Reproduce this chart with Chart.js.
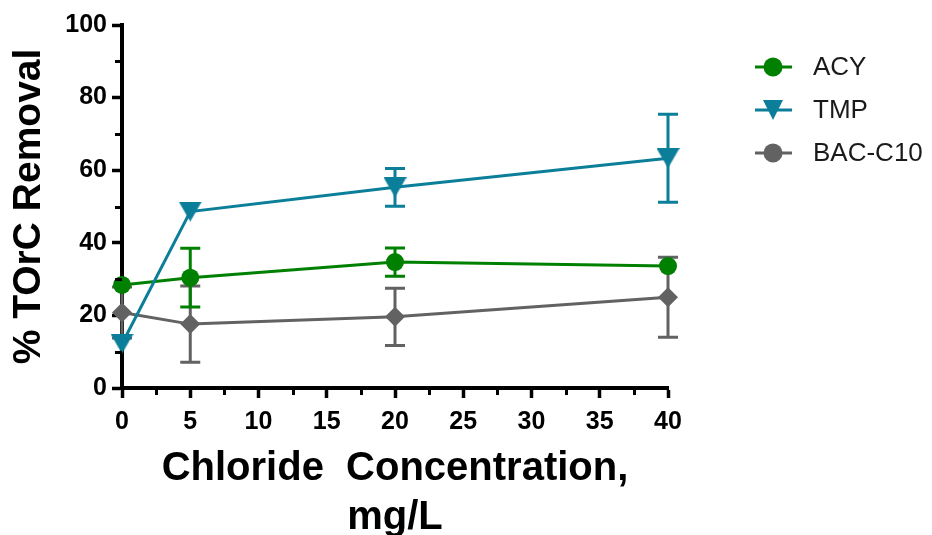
<!DOCTYPE html>
<html>
<head>
<meta charset="utf-8">
<script src="https://cdn.jsdelivr.net/npm/chart.js@4/dist/chart.umd.min.js"></script>
<style>
  html, body { margin: 0; padding: 0; background: #ffffff; }
  #wrap { width: 932px; height: 535px; }
</style>
</head>
<body>
<div id="wrap"><canvas id="c" width="932" height="535"></canvas></div>
<script>
// ---- data ----
const chlorideMgL = [0, 5, 20, 40];
const acyMean = [28.4, 30.4, 34.7, 33.6];
const acyErr  = [0, 8.1, 3.9, 0];
const tmpMean = [12.2, 48.6, 55.3, 63.3];
const tmpErr  = [0, 0, 5.2, 12.1];
const bacMean = [20.8, 17.6, 19.6, 25.0];
const bacErr  = [7.0, 10.5, 7.9, 11.0];
const seriesNames = ['ACY', 'TMP', 'BAC-C10'];
const xTickStep = 5, xMinorStep = 2.5;
const yTickStep = 20, yMinorStep = 10;
const xAxisTitle = ['Chloride  Concentration,', 'mg/L'];
const yAxisTitle = '% TOrC Removal';

const COL_ACY = '#008000';
const COL_TMP = '#0b7f99';
const COL_BAC = '#626262';

function triangleDown(color, w, h) {
  const c = document.createElement('canvas');
  c.width = w; c.height = h;
  const g = c.getContext('2d');
  g.fillStyle = color;
  g.beginPath();
  g.moveTo(0, 0); g.lineTo(w, 0); g.lineTo(w / 2, h);
  g.closePath(); g.fill();
  return c;
}
const triImg = triangleDown(COL_TMP, 23, 20);
const triLegend = triangleDown(COL_TMP, 20, 20);

function pts(means) { return chlorideMgL.map((x, i) => ({ x: x, y: means[i] })); }

const errLookup = { 'ACY': acyErr, 'TMP': tmpErr, 'BAC-C10': bacErr };

const errorBars = {
  id: 'errorBars',
  beforeDatasetDraw(chart, args) {
    const ds = chart.data.datasets[args.index];
    const errs = errLookup[ds.label];
    if (!errs) return;
    const xs = chart.scales.x, ys = chart.scales.y, ctx = chart.ctx;
    ctx.save();
    ctx.strokeStyle = ds.borderColor;
    ctx.lineWidth = 3;
    ctx.lineCap = 'butt';
    ds.data.forEach((p, i) => {
      const e = errs[i];
      if (!e) return;
      const px = xs.getPixelForValue(p.x);
      const pt = ys.getPixelForValue(p.y + e);
      const pb = ys.getPixelForValue(p.y - e);
      const cap = 10;
      ctx.beginPath();
      ctx.moveTo(px, pt); ctx.lineTo(px, pb);
      ctx.moveTo(px - cap, pt); ctx.lineTo(px + cap, pt);
      ctx.moveTo(px - cap, pb); ctx.lineTo(px + cap, pb);
      ctx.stroke();
    });
    ctx.restore();
  }
};

const minorTicks = {
  id: 'minorTicks',
  afterDraw(chart) {
    const xs = chart.scales.x, ys = chart.scales.y, ctx = chart.ctx;
    const a = chart.chartArea;
    ctx.save();
    ctx.strokeStyle = '#000';
    ctx.lineWidth = 3;
    ctx.beginPath();
    for (let v = xs.min + xMinorStep; v < xs.max; v += xTickStep) {
      const px = Math.round(xs.getPixelForValue(v)) + 0.5;
      ctx.moveTo(px, a.bottom); ctx.lineTo(px, a.bottom + 7);
    }
    for (let v = ys.min + yMinorStep; v < ys.max; v += yTickStep) {
      const py = Math.round(ys.getPixelForValue(v)) + 0.5;
      ctx.moveTo(a.left, py); ctx.lineTo(a.left - 7, py);
    }
    ctx.stroke();
    ctx.restore();
  }
};

const customLegend = {
  id: 'customLegend',
  afterDraw(chart) {
    const ctx = chart.ctx;
    const items = [
      { label: seriesNames[0], color: COL_ACY, style: 'circle' },
      { label: seriesNames[1], color: COL_TMP, style: 'tri' },
      { label: seriesNames[2], color: COL_BAC, style: 'circle' }
    ];
    const x0 = 755, x1 = 792, mx = 773, tx = 813;
    const yStart = 67, gap = 43;
    ctx.save();
    items.forEach((it, i) => {
      const y = yStart + i * gap;
      ctx.strokeStyle = it.color;
      ctx.lineWidth = 3;
      ctx.beginPath(); ctx.moveTo(x0, y); ctx.lineTo(x1, y); ctx.stroke();
      if (it.style === 'circle') {
        ctx.fillStyle = it.color;
        ctx.beginPath(); ctx.arc(mx, y, 9.5, 0, Math.PI * 2); ctx.fill();
      } else {
        ctx.drawImage(triLegend, mx - 10, y - 10);
      }
      ctx.fillStyle = '#1a1a1a';
      ctx.font = '26px "Liberation Sans", Arial, sans-serif';
      ctx.textAlign = 'left';
      ctx.textBaseline = 'middle';
      ctx.fillText(it.label, tx, y + 1);
    });
    ctx.restore();
  }
};

const fontFam = '"Liberation Sans", Arial, Helvetica, sans-serif';

new Chart(document.getElementById('c'), {
  type: 'line',
  data: {
    datasets: [
      { label: seriesNames[0], data: pts(acyMean), borderColor: COL_ACY, backgroundColor: COL_ACY,
        borderWidth: 3, pointStyle: 'circle', pointRadius: 9, pointBorderWidth: 0, order: 1, clip: false, tension: 0 },
      { label: seriesNames[1], data: pts(tmpMean), borderColor: COL_TMP, backgroundColor: COL_TMP,
        borderWidth: 3, pointStyle: triImg, pointRadius: 11, order: 0, clip: false, tension: 0 },
      { label: seriesNames[2], data: pts(bacMean), borderColor: COL_BAC, backgroundColor: COL_BAC,
        borderWidth: 3, pointStyle: 'rectRot', pointRadius: 10, pointBorderWidth: 0, order: 2, clip: false, tension: 0 }
    ]
  },
  options: {
    responsive: false,
    devicePixelRatio: 1,
    animation: false,
    events: [],
    layout: { padding: { left: 0, top: 25, right: 264, bottom: 0 } },
    plugins: { legend: { display: false }, tooltip: { enabled: false } },
    scales: {
      x: {
        type: 'linear', min: 0, max: 40,
        afterFit: (s) => { s.height = 147; },
        ticks: { stepSize: xTickStep, autoSkip: false, maxRotation: 0, color: '#000', padding: 9,
                 font: { family: fontFam, size: 25, weight: 'bold' } },
        grid: { drawOnChartArea: false, drawTicks: true, tickLength: 10, tickWidth: 3.5, tickColor: '#000' },
        border: { display: true, color: '#000', width: 4 },
        title: { display: true, text: xAxisTitle, color: '#000',
                 font: { family: fontFam, size: 40, weight: 'bold', lineHeight: 1.22 },
                 padding: { top: 0, bottom: -7 } }
      },
      y: {
        type: 'linear', min: 0, max: 100,
        afterFit: (s) => { s.width = 122; },
        ticks: { stepSize: yTickStep, color: '#000', padding: 5,
                 font: { family: fontFam, size: 25, weight: 'bold' } },
        grid: { drawOnChartArea: false, drawTicks: true, tickLength: 10, tickWidth: 3.5, tickColor: '#000' },
        border: { display: true, color: '#000', width: 4 },
        title: { display: true, text: yAxisTitle, color: '#000',
                 font: { family: fontFam, size: 39, weight: 'bold', lineHeight: 1.2 },
                 padding: { top: 6, bottom: 0 } }
      }
    }
  },
  plugins: [errorBars, minorTicks, customLegend]
});
</script>
</body>
</html>
